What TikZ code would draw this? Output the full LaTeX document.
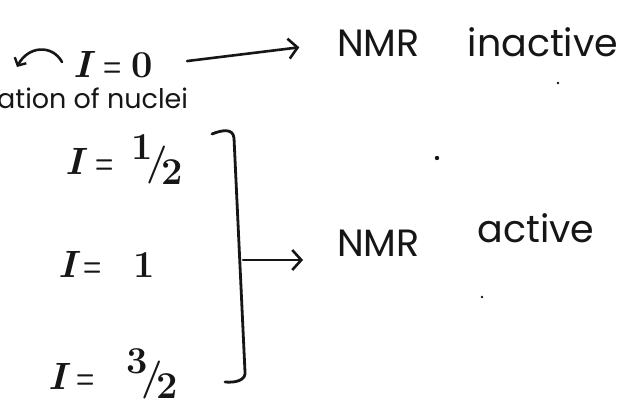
\documentclass[tikz,border=0pt]{standalone}
\usepackage{fontspec}
\usepackage{graphicx}
\newfontfamily\hand{Poppins}
\usetikzlibrary{arrows.meta,calc}
\definecolor{inkc}{RGB}{22,22,22}
\newcommand\slfrac[2]{\raisebox{0.42em}{#1}\kern-0.18em/\kern-0.16em\raisebox{-0.26em}{#2}}
\newcommand\eqsign{\scalebox{0.55}[1]{=}}
\begin{document}
\begin{tikzpicture}[x=1pt,y=-1pt,
  ink/.style={draw=inkc, line width=2.6pt, line cap=round, line join=round},
  arr/.style={ink, -{Straight Barb[length=9pt,width=20pt,line width=2.6pt]}},
  spin/.style={anchor=base west, inner sep=0pt, text=inkc, font=\bfseries\fontsize{38}{42}\selectfont},
  word/.style={anchor=base west, inner sep=0pt, text=inkc, font=\hand\fontsize{38}{42}\selectfont}]
\useasboundingbox[fill=white] (0,0) rectangle (622,401);

% spin values
\node[spin] (i0) at (73,78) {\textit{I}\hspace{8pt}\eqsign\hspace{10pt}0};
\node[spin] (i12) at (65,175) {\textit{I}\hspace{8pt}\eqsign\hspace{18pt}\slfrac{1}{2}};
\node[spin] (i1) at (58,278) {\textit{I}\hspace{3pt}\eqsign\hspace{32pt}1};
\node[spin] (i32) at (48,389) {\textit{I}\hspace{6pt}\eqsign\hspace{32pt}\slfrac{3}{2}};

% labels
\node[word] (inact) at (337,57) {NMR\hspace{48pt}inactive};
\node[word] (act) at (337,257) {NMR\hspace{58pt}\raisebox{14pt}{active}};
\node[word, font=\hand\fontsize{27}{30}\selectfont] (orient) at (-3,109) {ation of nuclei};

% curved arrow
\coordinate (cs) at (62,62);
\coordinate (ce) at (17,67);
\draw[ink, -{Straight Barb[length=6pt,width=13pt,line width=2.4pt]}] (cs) .. controls (52,44) and (28,46) .. (ce);

% arrow I=0 -> NMR inactive
\draw[arr, shorten <=34pt, shorten >=38pt] (i0.east) -- (inact.west);

% bracket
\draw[ink, line width=2.8pt] (212,134) .. controls (222,130) and (233,128) .. (234,138)
  -- (245,372) .. controls (246,380) and (236,383) .. (225,382);
\coordinate (bm) at (243,260);
\draw[arr, shorten >=34pt] (bm) -- (bm -| act.west);

% stray dots
\fill[inkc] (437,158) circle (2.2);
\fill[inkc] (558,83) circle (1.4);
\fill[inkc] (482,297) circle (1.4);
\end{tikzpicture}
\end{document}
